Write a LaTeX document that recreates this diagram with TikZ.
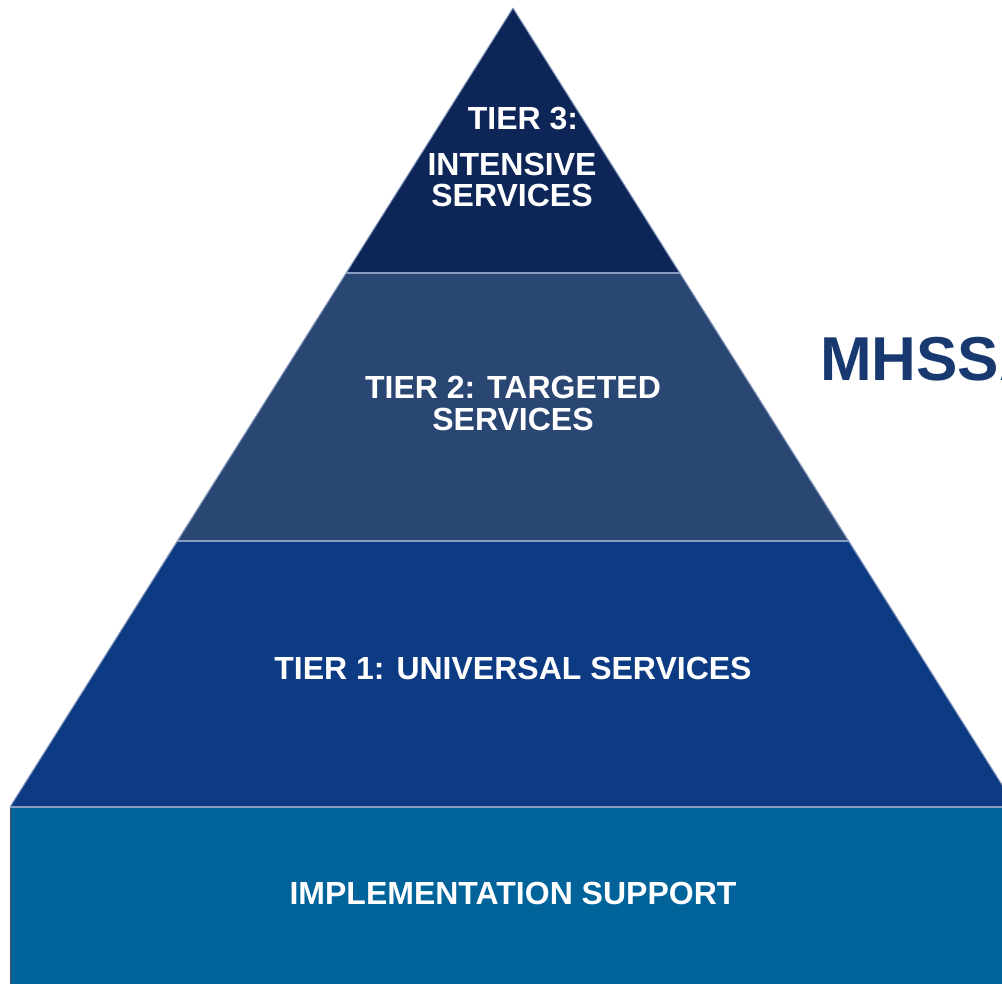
\documentclass[tikz,border=0pt]{standalone}
\usepackage{fontspec}
\setmainfont{Liberation Sans}
\definecolor{tthree}{HTML}{0E2558}
\definecolor{ttwo}{HTML}{2A4673}
\definecolor{tone}{HTML}{0C3A83}
\definecolor{tbase}{HTML}{00639A}
\definecolor{tline}{HTML}{8A9CC0}
\definecolor{ttitle}{HTML}{17396F}
\tikzset{
  tierlabel/.style={text=white, font=\fontsize{32}{31.5}\selectfont\bfseries, align=center, inner sep=0pt},
}
\begin{document}
\begin{tikzpicture}[x=1pt,y=-1pt]
\useasboundingbox (0,0) rectangle (1002,984);
\begin{scope}
\clip (0,0) rectangle (1002,984);
% base
\fill[tbase] (10,807) rectangle (1010,990);
\draw[draw=black!70, line width=1pt] (10,807) -- (10,990);
% tiers
\fill[tone] (177,541) -- (849,541) -- (1016,807) -- (10,807) -- cycle;
\fill[ttwo] (346,273) -- (680,273) -- (849,541) -- (177,541) -- cycle;
\fill[tthree] (513,8) -- (680,273) -- (346,273) -- cycle;
\draw[tline, line width=1pt] (513,8) -- (1016,807);
\draw[tline, line width=1pt] (513,8) -- (10,807);
\draw[tline, line width=1.5pt] (346,273) -- (680,273);
\draw[tline, line width=1.5pt] (177,541) -- (849,541);
\draw[draw=tline, line width=2pt] (10,807) -- (1010,807);
% title
\node[anchor=west, text=ttitle, font=\fontsize{62}{64}\selectfont\bfseries, inner sep=0pt] (title) at (820,359) {MHSSA};
\end{scope}
\node[tierlabel] (t3a) at (523,119) {TIER 3:};
\node[tierlabel] (t3b) at (512,180) {INTENSIVE\\SERVICES};
\node[tierlabel] (t2) at (513,403.5) {TIER 2: TARGETED\\SERVICES};
\node[tierlabel] (t1) at (513,668) {TIER 1: UNIVERSAL SERVICES};
\node[tierlabel] (base) at (513,893) {IMPLEMENTATION SUPPORT};
\end{tikzpicture}
\end{document}
